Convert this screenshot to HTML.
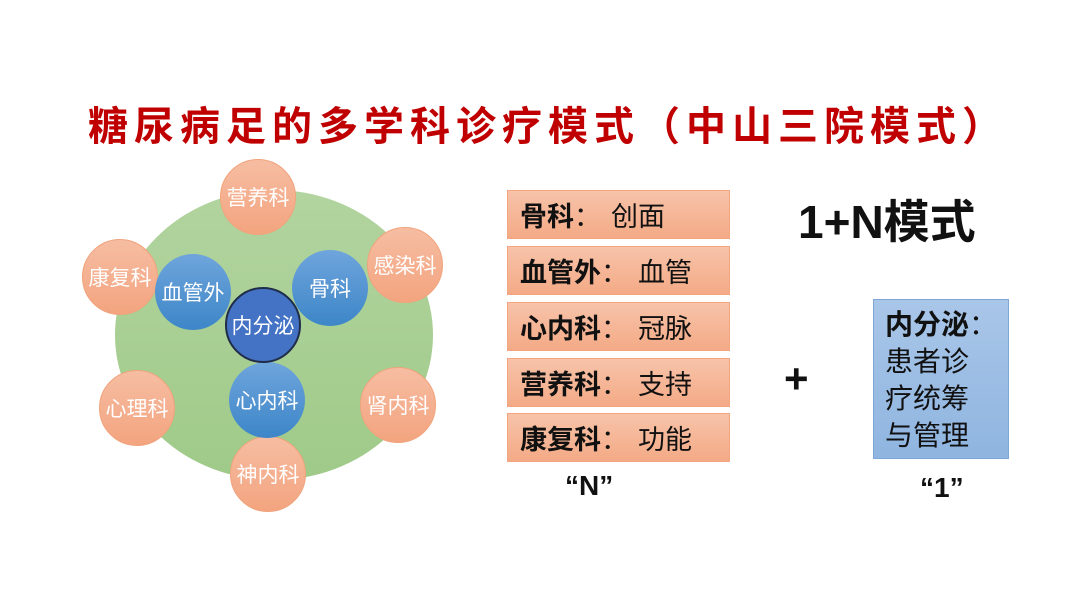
<!DOCTYPE html>
<html><head><meta charset="utf-8"><style>
body{margin:0;width:1080px;height:608px;background:#fff;position:relative;overflow:hidden;font-family:"Liberation Sans","Noto Sans CJK SC",sans-serif}
.a{position:absolute}
.c{position:absolute;border-radius:50%;display:flex;align-items:center;justify-content:center;color:#fff;font-size:21px;box-sizing:border-box;white-space:nowrap}
.o{width:76px;height:76px;background:linear-gradient(#f6bda2,#f3a47f);border:1.5px solid #f0a37c}
.b{width:76px;height:76px;background:linear-gradient(#6fa5dc,#3d86c8)}
.r{position:absolute;left:507px;width:223px;height:49px;background:linear-gradient(#f7c3a9,#f4aa86);border:1.5px solid #f2a57e;box-sizing:border-box;font-size:27px;color:#111;display:flex;align-items:center;padding-left:12px;white-space:nowrap}
.r b{font-weight:bold}
.r span{margin-left:10px}
</style></head><body>
<div class="a" style="left:88px;top:102px;font-size:40px;letter-spacing:6px;color:#c00000;font-weight:bold;white-space:nowrap;line-height:50px">糖尿病足的多学科诊疗模式（中山三院模式）</div>
<div class="a" style="left:115px;top:190px;width:318px;height:290px;border-radius:50%;background:linear-gradient(#b2d4a0,#9fca88)"></div>
<div class="c o" style="left:220px;top:159px">营养科</div>
<div class="c o" style="left:367px;top:227px">感染科</div>
<div class="c o" style="left:360px;top:367px">肾内科</div>
<div class="c o" style="left:230px;top:436px">神内科</div>
<div class="c o" style="left:99px;top:370px">心理科</div>
<div class="c o" style="left:82px;top:239px">康复科</div>
<div class="c b" style="left:155px;top:254px">血管外</div>
<div class="c b" style="left:292px;top:250px">骨科</div>
<div class="c b" style="left:229px;top:362px">心内科</div>
<div class="c" style="left:225px;top:287px;width:76px;height:76px;background:#4472c4;border:2px solid #1f2d4a">内分泌</div>
<div class="r" style="top:190px"><b>骨科</b>：<span>创面</span></div>
<div class="r" style="top:246px"><b>血管外</b>：<span>血管</span></div>
<div class="r" style="top:302px"><b>心内科</b>：<span>冠脉</span></div>
<div class="r" style="top:358px"><b>营养科</b>：<span>支持</span></div>
<div class="r" style="top:413px"><b>康复科</b>：<span>功能</span></div>
<div class="a" style="left:565px;top:470px;font-size:28px;font-weight:bold;color:#111">“N”</div>
<div class="a" style="left:798px;top:186px;font-size:46px;font-weight:bold;color:#111;white-space:nowrap">1+N模式</div>
<div class="a" style="left:784px;top:355px;font-size:42px;font-weight:bold;color:#111">+</div>
<div class="a" style="left:873px;top:299px;width:136px;height:160px;background:linear-gradient(#a9c6e8,#8fb5e0);border:1.5px solid #7fa7d6;box-sizing:border-box;font-size:28px;line-height:37px;color:#111;padding:6px 0 0 11px;white-space:nowrap"><b>内分泌</b>：<br>患者诊<br>疗统筹<br>与管理</div>
<div class="a" style="left:920px;top:472px;font-size:28px;font-weight:bold;color:#111">“1”</div>
</body></html>
